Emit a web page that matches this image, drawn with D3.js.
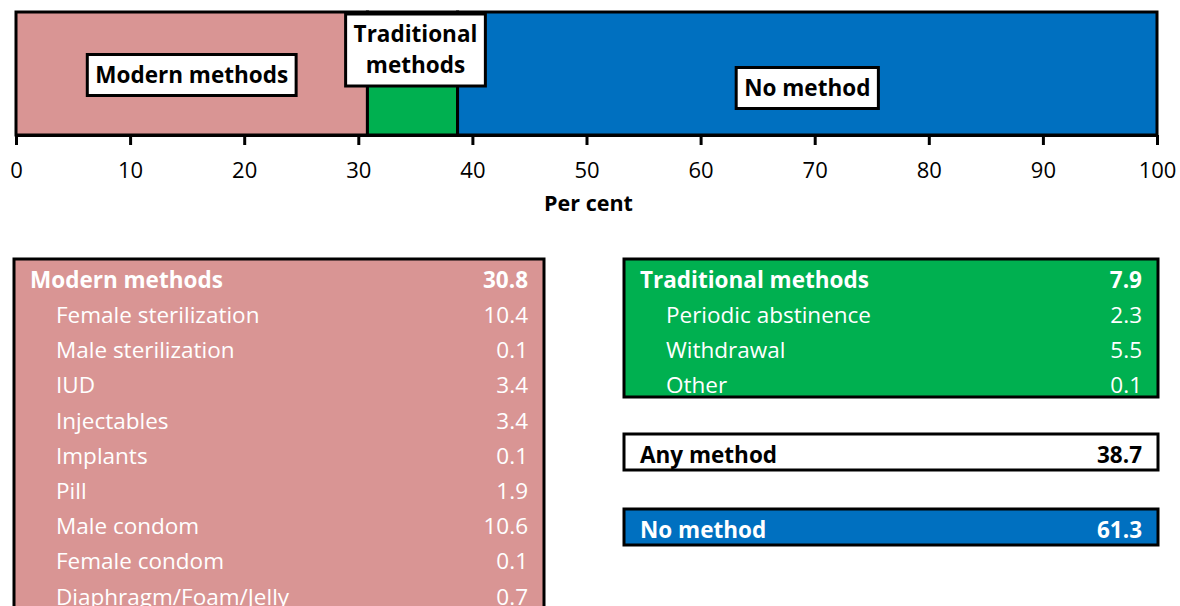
<!DOCTYPE html>
<html>
<head>
<meta charset="utf-8">
<script src="https://cdn.jsdelivr.net/npm/d3@7"></script>
<style>
  body { margin: 0; background: #fff; }
  svg { display: block; font-family: "Open Sans", Lato, sans-serif; }
</style>
</head>
<body>
<svg width="1180" height="606"></svg>
<script>
// bar segments
var barCategories = ["Modern methods", "Traditional methods", "No method"],
    barValues = [30.8, 7.9, 61.3],
    barColors = ["#D99594", "#00B050", "#0070C0"],
    tickValues = [0, 10, 20, 30, 40, 50, 60, 70, 80, 90, 100];

// table contents
var modernItems = ["Female sterilization", "Male sterilization", "IUD", "Injectables",
                   "Implants", "Pill", "Male condom", "Female condom", "Diaphragm/Foam/Jelly"],
    modernValues = [10.4, 0.1, 3.4, 3.4, 0.1, 1.9, 10.6, 0.1, 0.7],
    modernTotal = 30.8,
    traditionalItems = ["Periodic abstinence", "Withdrawal", "Other"],
    traditionalValues = [2.3, 5.5, 0.1],
    traditionalTotal = 7.9,
    anyMethodValue = 38.7,
    noMethodValue = 61.3;

var svg = d3.select("svg"),
    fmt = d3.format(".1f"),
    FS = 22.5;

var x = d3.scaleLinear().domain([0, 100]).range([16, 1157]),
    barTop = 12, barBottom = 135;

// stacked segments
var segs = [], acc = 0;
barValues.forEach(function(v, i) {
  segs.push({name: barCategories[i], x0: acc, x1: acc + v, color: barColors[i]});
  acc += v;
});

var bar = svg.append("g");
bar.selectAll("rect")
  .data(segs)
  .enter().append("rect")
  .attr("x", function(d) { return x(d.x0); })
  .attr("y", barTop)
  .attr("width", function(d) { return x(d.x1) - x(d.x0); })
  .attr("height", barBottom - barTop)
  .attr("fill", function(d) { return d.color; })
  .attr("stroke", "#000")
  .attr("stroke-width", 3);

// axis
var axis = svg.append("g")
  .attr("transform", "translate(0," + barBottom + ")")
  .call(d3.axisBottom(x).tickValues(tickValues).tickSize(10).tickPadding(17).tickSizeOuter(0));
axis.select(".domain").attr("stroke", "#000").attr("stroke-width", 3);
axis.selectAll(".tick line").attr("stroke", "#000").attr("stroke-width", 3);
axis.selectAll(".tick text")
  .attr("font-family", "'Open Sans', Lato, sans-serif")
  .attr("font-size", 22)
  .attr("fill", "#000");

svg.append("text")
  .attr("x", x(50) + 2)
  .attr("y", 211)
  .attr("text-anchor", "middle")
  .attr("font-size", 21.5)
  .attr("font-weight", "bold")
  .text("Per cent");

// labels on the bar
var labelY = [75, 50, 88];
var labelLines = [["Modern methods"], ["Traditional", "methods"], ["No method"]];
segs.forEach(function(d, i) {
  var cx = x((d.x0 + d.x1) / 2) + (i === 1 ? 3 : 0),
      cy = labelY[i],
      lines = labelLines[i],
      lh = 31;
  var g = svg.append("g");
  var rect = g.append("rect");
  var t = g.append("text")
    .attr("text-anchor", "middle")
    .attr("font-size", FS)
    .attr("font-weight", "bold");
  lines.forEach(function(l, j) {
    t.append("tspan")
      .attr("x", cx)
      .attr("y", cy + (j - (lines.length - 1) / 2) * lh)
      .attr("dy", "0.35em")
      .text(l);
  });
  var bb = t.node().getBBox();
  rect.attr("x", bb.x - 8)
    .attr("y", cy - lines.length * lh / 2 - 5)
    .attr("width", bb.width + 16)
    .attr("height", lines.length * lh + 10)
    .attr("fill", "#fff")
    .attr("stroke", "#000")
    .attr("stroke-width", 3);
});

// tables
function table(x0, x1, y0, y1, fill, header, total, items, values, textColor) {
  var g = svg.append("g");
  g.append("rect")
    .attr("x", x0).attr("y", y0)
    .attr("width", x1 - x0).attr("height", y1 - y0)
    .attr("fill", fill)
    .attr("stroke", "#000")
    .attr("stroke-width", 3);
  var rows = [{label: header, value: total, head: true}].concat(items.map(function(n, i) {
    return {label: n, value: values[i], head: false};
  }));
  var y = d3.scalePoint().domain(d3.range(rows.length))
    .range([y0 + 21, y0 + 21 + (rows.length - 1) * 35.2]);
  var r = g.selectAll("g.row").data(rows).enter().append("g")
    .attr("transform", function(d, i) { return "translate(0," + y(i) + ")"; });
  r.append("text")
    .attr("x", function(d) { return d.head ? x0 + 16 : x0 + 42; })
    .attr("dy", "0.35em")
    .attr("font-size", FS)
    .attr("font-weight", function(d) { return d.head ? "bold" : "normal"; })
    .attr("fill", textColor)
    .text(function(d) { return d.label; });
  r.append("text")
    .attr("x", x1 - 16)
    .attr("dy", "0.35em")
    .attr("text-anchor", "end")
    .attr("font-size", FS)
    .attr("font-weight", function(d) { return d.head ? "bold" : "normal"; })
    .attr("fill", textColor)
    .text(function(d) { return fmt(d.value); });
}

table(14, 544, 259, 640, "#D99594", "Modern methods", modernTotal, modernItems, modernValues, "#fff");
table(624, 1158, 259, 397, "#00B050", "Traditional methods", traditionalTotal, traditionalItems, traditionalValues, "#fff");
table(624, 1158, 434, 470, "#fff", "Any method", anyMethodValue, [], [], "#000");
table(624, 1158, 509, 545, "#0070C0", "No method", noMethodValue, [], [], "#fff");
</script>
</body>
</html>
